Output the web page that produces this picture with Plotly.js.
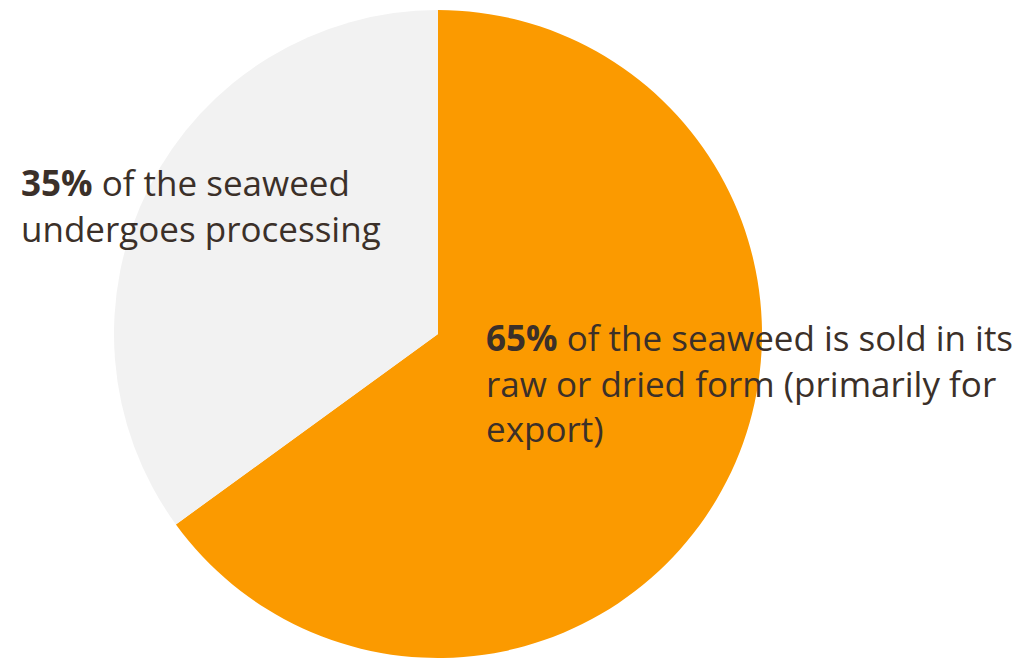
<!DOCTYPE html>
<html><head><meta charset="utf-8">
<script src="https://cdn.plot.ly/plotly-3.0.1.min.js"></script>
<style>html,body{margin:0;padding:0;background:#fff}</style>
</head><body><div id="chart" style="width:1028px;height:658px"></div>
<script>
const labels = ["Sold raw or dried (primarily for export)", "Undergoes processing"];
const values = [65, 35];
const colors = ["#FB9A00", "#F2F2F2"];
const note1 = "<b>35%</b> of the seaweed<br>undergoes processing";
const note2 = "<b>65%</b> of the seaweed is sold in its<br>raw or dried form (primarily for<br>export)";

const W = 1028, H = 658;
const data = [{
  type: "pie",
  labels: labels,
  values: values,
  marker: {colors: colors, line: {width: 0}},
  sort: false,
  direction: "clockwise",
  rotation: 0,
  textinfo: "none",
  hoverinfo: "label+percent",
  domain: {x: [113/W, 763/W], y: [0, 1 - 10/H]}
}];
const tf = {family: "'Open Sans', sans-serif", size: 35, color: "#3B3029"};
const layout = {
  width: W, height: H,
  margin: {l: 0, r: 0, t: 0, b: 0},
  showlegend: false,
  paper_bgcolor: "#fff",
  annotations: [
    {text: note1, xref: "paper", yref: "paper", x: 19/W, y: 1 - 206/H, xanchor: "left", yanchor: "middle", align: "left", showarrow: false, font: tf},
    {text: note2, xref: "paper", yref: "paper", x: 484/W, y: 1 - 383/H, xanchor: "left", yanchor: "middle", align: "left", showarrow: false, font: tf}
  ]
};
Plotly.newPlot("chart", data, layout, {displayModeBar: false});
</script></body></html>
